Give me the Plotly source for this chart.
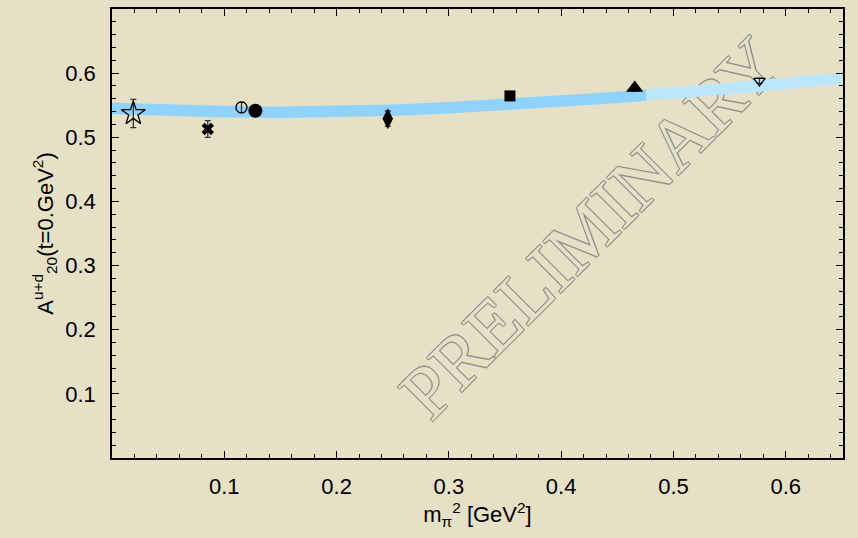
import plotly.graph_objects as go

# ---- data ----
pt_x = [0.019, 0.0853, 0.1153, 0.1277, 0.2456, 0.3544, 0.4655, 0.5766]
pt_y = [0.537, 0.513, 0.5465, 0.5414, 0.529, 0.5645, 0.577, 0.588]
pt_err = [0.022, 0.013, 0.008, 0.004, 0.012, 0.004, 0.005, 0.004]
pt_symbol = ["star-open", "x", "circle-open", "circle", "diamond-tall",
             "square", "triangle-up", "triangle-down-open"]
pt_size = [18, 11, 11, 14, 15, 11, 15, 10]

band_x_dark = [0.0, 0.05, 0.10, 0.15, 0.20, 0.25, 0.30, 0.35, 0.40, 0.45, 0.476]
band_lo_dark = [0.536, 0.533, 0.531, 0.530, 0.531, 0.533, 0.537, 0.542, 0.547, 0.553, 0.557]
band_hi_dark = [0.554, 0.551, 0.549, 0.548, 0.549, 0.551, 0.555, 0.560, 0.565, 0.571, 0.575]
band_x_light = [0.476, 0.50, 0.55, 0.60, 0.65]
band_lo_light = [0.557, 0.560, 0.567, 0.575, 0.583]
band_hi_light = [0.575, 0.578, 0.585, 0.593, 0.601]

x_ticks = [0.1, 0.2, 0.3, 0.4, 0.5, 0.6]
y_ticks = [0.1, 0.2, 0.3, 0.4, 0.5, 0.6]
watermark = "PRELIMINARY"

BG = "#e6e0c6"
SANS = "Liberation Sans, Arial, sans-serif"

fig = go.Figure()

# error band (dark then light part)
fig.add_trace(go.Scatter(x=band_x_dark, y=band_lo_dark, mode="lines",
                         line=dict(width=0, color="#8fd3fc"), showlegend=False, hoverinfo="skip"))
fig.add_trace(go.Scatter(x=band_x_dark, y=band_hi_dark, mode="lines", fill="tonexty",
                         fillcolor="#8fd3fc", line=dict(width=0, color="#8fd3fc"),
                         showlegend=False, hoverinfo="skip"))
fig.add_trace(go.Scatter(x=band_x_light, y=band_lo_light, mode="lines",
                         line=dict(width=0, color="#bbe6fb"), showlegend=False, hoverinfo="skip"))
fig.add_trace(go.Scatter(x=band_x_light, y=band_hi_light, mode="lines", fill="tonexty",
                         fillcolor="#bbe6fb", line=dict(width=0, color="#bbe6fb"),
                         showlegend=False, hoverinfo="skip"))

# data points
for xv, yv, ev, sym, sz in zip(pt_x, pt_y, pt_err, pt_symbol, pt_size):
    fig.add_trace(go.Scatter(
        x=[xv], y=[yv], mode="markers", showlegend=False,
        error_y=dict(type="data", array=[ev], visible=True, color="#333333",
                     thickness=1.3, width=3),
        marker=dict(symbol=sym, size=sz, color="black",
                    line=dict(color="black", width=1.3 if "open" in sym else 0)),
    ))

axis_common = dict(
    showline=True, linecolor="black", linewidth=1.5, mirror="allticks",
    ticks="inside", ticklen=7, tickwidth=1.3, tickcolor="black",
    showgrid=False, zeroline=False,
    tickfont=dict(family=SANS, size=22, color="black"),
    minor=dict(dtick=0.02, tick0=0, ticks="inside", ticklen=4, tickwidth=1.1, tickcolor="black"),
)

fig.update_xaxes(range=[0, 0.651], tickvals=x_ticks, ticktext=[f"{v:.1f}" for v in x_ticks],
                 ticklabelstandoff=8,
                 title=dict(text="m<sub>π</sub><sup>2</sup> [GeV<sup>2</sup>]", standoff=8,
                            font=dict(family=SANS, size=22, color="black")),
                 **axis_common)
fig.update_yaxes(range=[0, 0.7], tickvals=y_ticks, ticktext=[f"{v:.1f}" for v in y_ticks],
                 ticklabelstandoff=10,
                 title=dict(text="A<sup>u+d</sup><sub>20</sub>(t=0.GeV<sup>2</sup>)", standoff=6,
                            font=dict(family=SANS, size=22, color="black")),
                 **axis_common)

# watermark as a shape label drawn below the data
fig.add_shape(
    type="rect", xref="x", yref="y", x0=0.371, x1=0.471, y0=0.318, y1=0.418,
    line=dict(width=0), fillcolor="rgba(0,0,0,0)", layer="below",
    label=dict(text=watermark, textangle=-45, textposition="middle center",
               font=dict(family="Liberation Serif, Times New Roman, serif", size=74, color=BG,
                         shadow="-1px -1px 0 #8f8f8f, 1px -1px 0 #8f8f8f, -1px 1px 0 #8f8f8f, 1px 1px 0 #8f8f8f")),
)

fig.update_layout(
    width=858, height=538,
    margin=dict(l=112, r=15, t=7, b=80),
    paper_bgcolor=BG, plot_bgcolor=BG,
    showlegend=False,
)

fig.write_html("out.html")
